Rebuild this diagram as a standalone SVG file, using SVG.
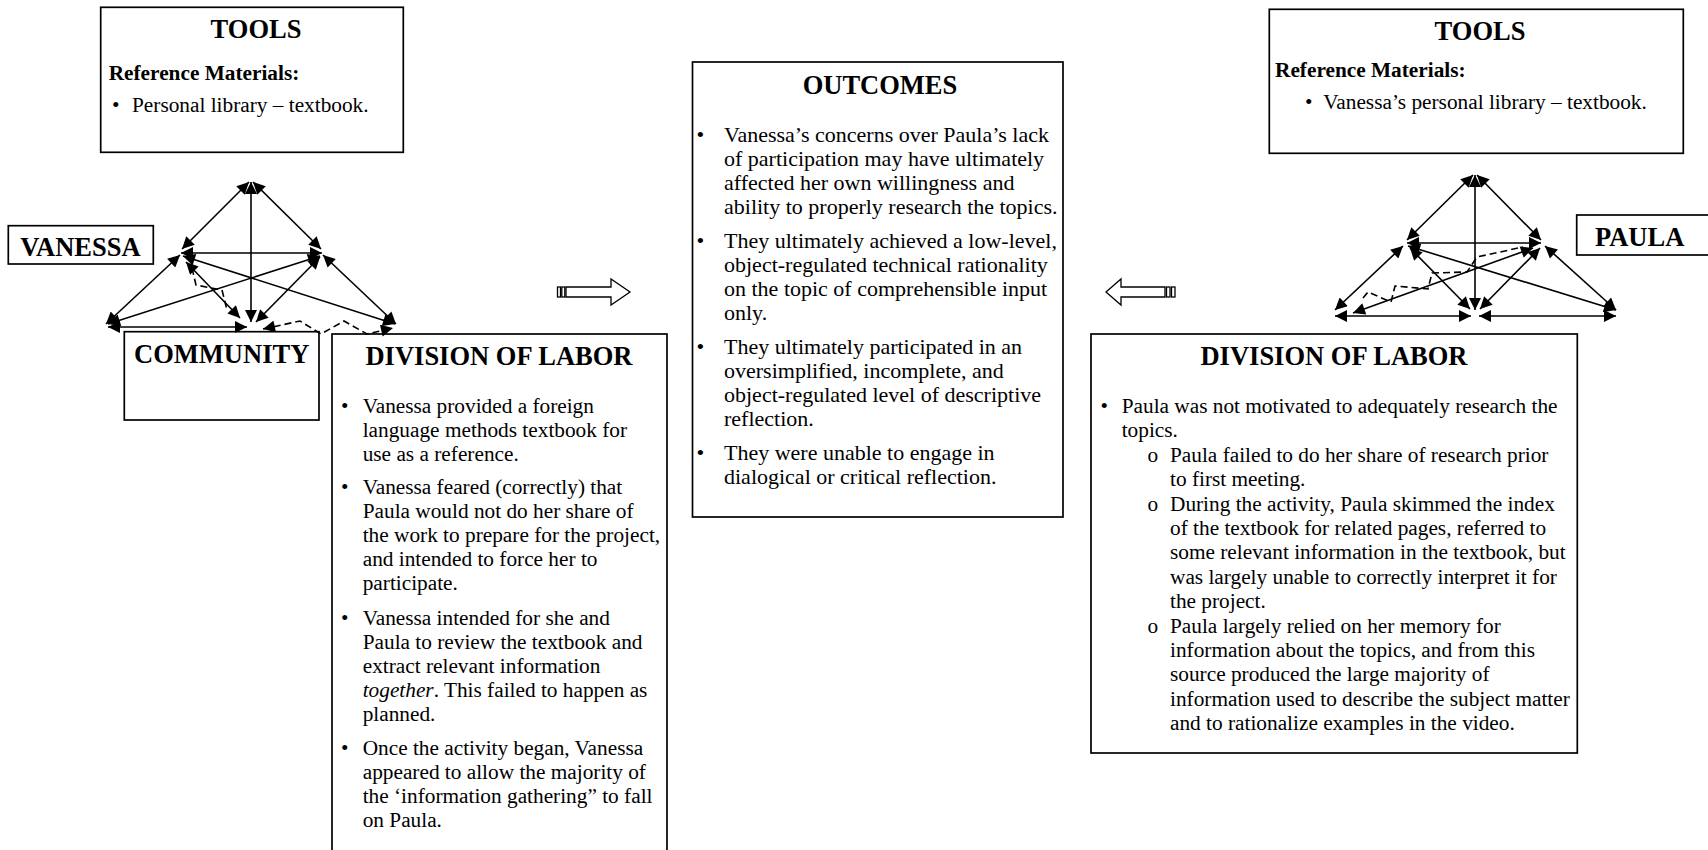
<svg xmlns="http://www.w3.org/2000/svg" width="1708" height="850" viewBox="0 0 1708 850">
<defs>
<style>
.box{fill:#fff;stroke:#000;stroke-width:1.7}
.t{font-family:"Liberation Serif","Times New Roman",serif;font-size:21.3px;fill:#000}
.o{font-size:22px}
.h{font-family:"Liberation Serif","Times New Roman",serif;font-size:26.5px;font-weight:bold;fill:#000;text-anchor:middle}
.b{font-weight:bold}
.c{stroke:#000;stroke-width:1.6;fill:none;marker-start:url(#ah);marker-end:url(#ah)}
.d{stroke:#000;stroke-width:1.6;fill:none;stroke-dasharray:7 4}
.blk{fill:#fff;stroke:#000;stroke-width:1.3}
</style>
<marker id="ah" viewBox="0 0 10 10" refX="10" refY="5" markerUnits="userSpaceOnUse" markerWidth="14" markerHeight="12" orient="auto-start-reverse">
<path d="M0,0 L10,5 L0,10 z" fill="#000"/>
</marker>
</defs>
<rect width="1708" height="850" fill="#fff"/>

<g id="tools-left">
<rect class="box" x="100.7" y="7.3" width="302.6" height="145"/>
<text class="h" x="256" y="38">TOOLS</text>
<text class="t b" x="108.7" y="80">Reference Materials:</text>
<text class="t" x="112" y="111.5">•</text>
<text class="t" x="132" y="111.5">Personal library – textbook.</text>
</g>

<g id="vanessa">
<rect class="box" x="8.3" y="225.7" width="145" height="38.3"/>
<text class="h" x="80.5" y="255.5">VANESSA</text>
</g>

<g id="community">
<rect class="box" x="124.3" y="331.7" width="194.7" height="88.3"/>
<text class="h" x="221.7" y="363">COMMUNITY</text>
</g>

<g id="division-left">
<rect class="box" x="332" y="334" width="335" height="530"/>
<text class="h" x="499" y="365">DIVISION OF LABOR</text>
<g class="t">
<text x="341" y="413">•</text>
<text x="362.7" y="413">Vanessa provided a foreign</text>
<text x="362.7" y="437">language methods textbook for</text>
<text x="362.7" y="461">use as a reference.</text>
<text x="341" y="494">•</text>
<text x="362.7" y="494">Vanessa feared (correctly) that</text>
<text x="362.7" y="518">Paula would not do her share of</text>
<text x="362.7" y="542">the work to prepare for the project,</text>
<text x="362.7" y="566">and intended to force her to</text>
<text x="362.7" y="590">participate.</text>
<text x="341" y="625">•</text>
<text x="362.7" y="625">Vanessa intended for she and</text>
<text x="362.7" y="649">Paula to review the textbook and</text>
<text x="362.7" y="673">extract relevant information</text>
<text x="362.7" y="697"><tspan font-style="italic">together</tspan>.  This failed to happen as</text>
<text x="362.7" y="721">planned.</text>
<text x="341" y="755">•</text>
<text x="362.7" y="755">Once the activity began, Vanessa</text>
<text x="362.7" y="779">appeared to allow the majority of</text>
<text x="362.7" y="803">the ‘information gathering” to fall</text>
<text x="362.7" y="827">on Paula.</text>
</g>
</g>

<g id="outcomes">
<rect class="box" x="692.5" y="62" width="370.5" height="455"/>
<text class="h" x="880" y="94">OUTCOMES</text>
<g class="t o">
<text x="696.5" y="142">•</text>
<text x="724" y="142">Vanessa’s concerns over Paula’s lack</text>
<text x="724" y="166">of participation may have ultimately</text>
<text x="724" y="190">affected her own willingness and</text>
<text x="724" y="214">ability to properly research the topics.</text>
<text x="696.5" y="248">•</text>
<text x="724" y="248">They ultimately achieved a low-level,</text>
<text x="724" y="272">object-regulated technical rationality</text>
<text x="724" y="296">on the topic of comprehensible input</text>
<text x="724" y="320">only.</text>
<text x="696.5" y="354">•</text>
<text x="724" y="354">They ultimately participated in an</text>
<text x="724" y="378">oversimplified, incomplete, and</text>
<text x="724" y="402">object-regulated level of descriptive</text>
<text x="724" y="426">reflection.</text>
<text x="696.5" y="460">•</text>
<text x="724" y="460">They were unable to engage in</text>
<text x="724" y="484">dialogical or critical reflection.</text>
</g>
</g>

<g id="arrow-right">
<rect class="blk" x="557.5" y="287" width="3" height="10"/>
<rect class="blk" x="561.8" y="287" width="3" height="10"/>
<path class="blk" d="M566,287 L611,287 L611,279 L630,292 L611,305 L611,297 L566,297 Z"/>
</g>

<g id="arrow-left">
<rect class="blk" x="1166.5" y="287" width="3.5" height="10"/>
<rect class="blk" x="1171.5" y="287" width="3.5" height="10"/>
<path class="blk" d="M1165,287 L1121,287 L1121,279 L1106,292 L1121,305 L1121,297 L1165,297 Z"/>
</g>

<g id="tools-right">
<rect class="box" x="1269.3" y="9.3" width="414" height="144"/>
<text class="h" x="1480" y="40">TOOLS</text>
<text class="t b" x="1275" y="77">Reference Materials:</text>
<text class="t" x="1305" y="109">•</text>
<text class="t" x="1323.3" y="109">Vanessa’s personal library – textbook.</text>
</g>

<g id="paula">
<rect class="box" x="1576.7" y="215" width="140" height="40"/>
<text class="t b" style="font-size:26.5px" x="1595" y="246">PAULA</text>
</g>

<g id="division-right">
<rect class="box" x="1091" y="334" width="486.3" height="419"/>
<text class="h" x="1334" y="365">DIVISION OF LABOR</text>
<g class="t">
<text x="1100.5" y="413">•</text>
<text x="1121.7" y="413">Paula was not motivated to adequately research the</text>
<text x="1121.7" y="437.4">topics.</text>
<text x="1147.5" y="461.8">o</text>
<text x="1170" y="461.8">Paula failed to do her share of research prior</text>
<text x="1170" y="486.2">to first meeting.</text>
<text x="1147.5" y="510.6">o</text>
<text x="1170" y="510.6">During the activity, Paula skimmed the index</text>
<text x="1170" y="535">of the textbook for related pages, referred to</text>
<text x="1170" y="559.4">some relevant information in the textbook, but</text>
<text x="1170" y="583.8">was largely unable to correctly interpret it for</text>
<text x="1170" y="608.2">the project.</text>
<text x="1147.5" y="632.6">o</text>
<text x="1170" y="632.6">Paula largely relied on her memory for</text>
<text x="1170" y="657">information about the topics, and from this</text>
<text x="1170" y="681.4">source produced the large majority of</text>
<text x="1170" y="705.8">information used to describe the subject matter</text>
<text x="1170" y="730.2">and to rationalize examples in the video.</text>
</g>
</g>

<g id="connectors">
<!-- left triangle -->
<line class="c" x1="249" y1="182" x2="182" y2="249"/>
<line class="c" x1="253" y1="182" x2="321" y2="249"/>
<line class="c" x1="251" y1="182" x2="251" y2="322"/>
<line class="c" x1="181" y1="253" x2="322" y2="253"/>
<line class="c" x1="180" y1="255" x2="106" y2="324"/>
<line class="c" x1="323" y1="255" x2="396" y2="324"/>
<line class="c" x1="183" y1="256" x2="395" y2="324"/>
<line class="c" x1="320" y1="256" x2="108" y2="324"/>
<line class="c" x1="186" y1="262" x2="240" y2="318"/>
<line class="c" x1="320" y1="257" x2="256" y2="322"/>
<line class="c" x1="108" y1="327" x2="247" y2="327"/>
<path class="d" d="M192,268 L196,285 L222,290 L227,310"/>
<path class="d" style="marker-start:url(#ah);marker-end:url(#ah)" d="M263,329 L300,321 L321,334 L344,321 L367,334 L393,328"/>
<!-- right triangle -->
<line class="c" x1="1473" y1="175" x2="1407" y2="240"/>
<line class="c" x1="1477" y1="175" x2="1541" y2="240"/>
<line class="c" x1="1475" y1="175" x2="1475" y2="310"/>
<line class="c" x1="1407" y1="243" x2="1541" y2="243"/>
<line class="c" x1="1403" y1="246" x2="1335" y2="310"/>
<line class="c" x1="1545" y1="246" x2="1616" y2="310"/>
<line class="c" x1="1408" y1="246" x2="1616" y2="310"/>
<line class="c" x1="1533" y1="248" x2="1353" y2="313"/>
<line class="c" x1="1410" y1="248" x2="1470" y2="309"/>
<line class="c" x1="1540" y1="248" x2="1480" y2="309"/>
<line class="c" x1="1335" y1="316" x2="1471" y2="316"/>
<line class="c" x1="1479" y1="316" x2="1616" y2="316"/>
<path class="d" d="M1363,298 L1368,292 L1391,302 L1395,286 L1428,289 L1432,273 L1467,272 L1477,257 L1523,247"/>
</g>
</svg>
